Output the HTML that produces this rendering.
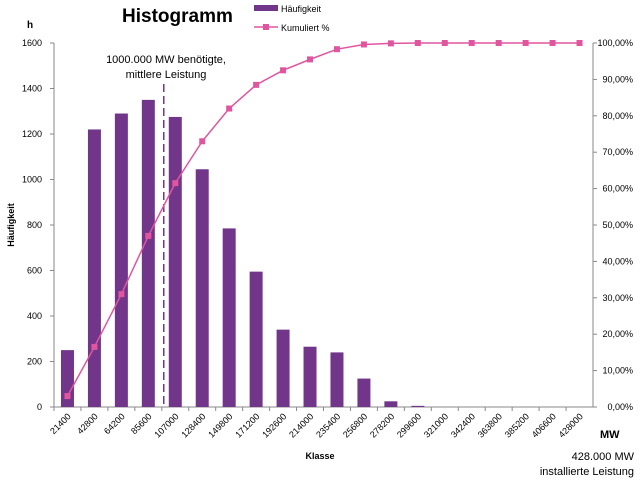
<!DOCTYPE html>
<html><head><meta charset="utf-8"><style>
body{margin:0;background:#fff}
text{font-family:"Liberation Sans",sans-serif}
</style></head><body>
<svg id="c" width="640" height="481" xmlns="http://www.w3.org/2000/svg">
<text x="122" y="22" font-size="19" font-weight="bold">Histogramm</text>
<text x="27" y="28" font-size="10" font-weight="bold">h</text>
<g>
<rect x="254" y="5" width="24" height="6" fill="#71368a"/>
<text x="281" y="12" font-size="9">Häufigkeit</text>
<line x1="254" y1="27" x2="278" y2="27" stroke="#e0559e" stroke-width="1.5"/>
<rect x="263" y="24" width="6" height="6" fill="#e0559e"/>
<text x="281" y="31" font-size="9">Kumuliert %</text>
</g>
<text x="166" y="63" font-size="11" text-anchor="middle">1000.000 MW benötigte,</text>
<text x="166" y="78" font-size="11" text-anchor="middle">mittlere Leistung</text>
<text x="600" y="438" font-size="11" font-weight="bold">MW</text>
<text x="634" y="460" font-size="11" text-anchor="end">428.000 MW</text>
<text x="634" y="475" font-size="11" text-anchor="end">installierte Leistung</text>
<text x="320" y="459" font-size="9" font-weight="bold" text-anchor="middle">Klasse</text>
<text transform="translate(14,225) rotate(-90)" font-size="9" font-weight="bold" text-anchor="middle">Häufigkeit</text>
</svg>
<script>
const categories=["21400","42800","64200","85600","107000","128400","149800","171200","192600","214000","235400","256800","278200","299600","321000","342400","363800","385200","406600","428000"];
const counts=[250,1220,1290,1350,1275,1045,785,595,340,265,240,125,25,5,0,0,0,0,0,0];
const cumulative=[3,16.5,31,47,61.5,73,82,88.5,92.5,95.5,98.3,99.6,99.9,100,100,100,100,100,100,100];
const leftTicks=[0,200,400,600,800,1000,1200,1400,1600];
const rightTicks=[0,10,20,30,40,50,60,70,80,90,100];
const meanLine=100000;
const svg=document.getElementById('c');const NS='http://www.w3.org/2000/svg';
const X0=54,X1=593,Y0=407,Y1=43;const step=(X1-X0)/categories.length;
const xc=i=>X0+step*(i+0.5);
const xv=v=>X0+step*(v/21400-0.6);
const yl=v=>Y0-(v/1600)*(Y0-Y1);
const yr=v=>Y0-(v/100)*(Y0-Y1);
function mk(t,a){const e=document.createElementNS(NS,t);for(const k in a)e.setAttribute(k,a[k]);svg.appendChild(e);return e;}
let ax=mk('line',{x1:X0,y1:Y1,x2:X0,y2:Y0,stroke:'#888'});


ax=mk('line',{x1:X1,y1:Y1,x2:X1,y2:Y0,stroke:'#888'});


ax=mk('line',{x1:X0,y1:Y0,x2:X1,y2:Y0,stroke:'#888'});


leftTicks.forEach(v=>{mk('line',{x1:X0-4,x2:X0,y1:yl(v),y2:yl(v),stroke:'#888'});
const t=mk('text',{x:X0-12,y:yl(v)+3,'font-size':9,'text-anchor':'end'});t.textContent=v;

});
rightTicks.forEach(v=>{mk('line',{x1:X1,x2:X1+4,y1:yr(v),y2:yr(v),stroke:'#888'});
const t=mk('text',{x:X1+40,y:yr(v)+3,'font-size':9,'text-anchor':'end'});t.textContent=v.toFixed(2).replace('.',',')+'%';

});
categories.forEach((c,i)=>{mk('line',{x1:X0+step*i,x2:X0+step*i,y1:Y0,y2:Y0+4,stroke:'#888'});
const t=mk('text',{transform:`translate(${xc(i)+4},${Y0+10}) rotate(-45)`,'font-size':9,'text-anchor':'end'});t.textContent=c;

});
counts.forEach((v,i)=>{const b=mk('rect',{x:xc(i)-6.5,y:yl(v),width:13,height:Y0-yl(v),fill:'#71368a'});

});
const mx=xv(meanLine);
const ml=mk('line',{x1:mx,x2:mx,y1:84,y2:Y0,stroke:'#71368a','stroke-width':1.5,'stroke-dasharray':'8,4'});


const pl=mk('polyline',{points:cumulative.map((v,i)=>xc(i)+','+yr(v)).join(' '),fill:'none',stroke:'#e0559e','stroke-width':1.5});


cumulative.forEach((v,i)=>{const p=mk('rect',{x:xc(i)-3,y:yr(v)-3,width:6,height:6,fill:'#e0559e'});

});
</script>
</body></html>
